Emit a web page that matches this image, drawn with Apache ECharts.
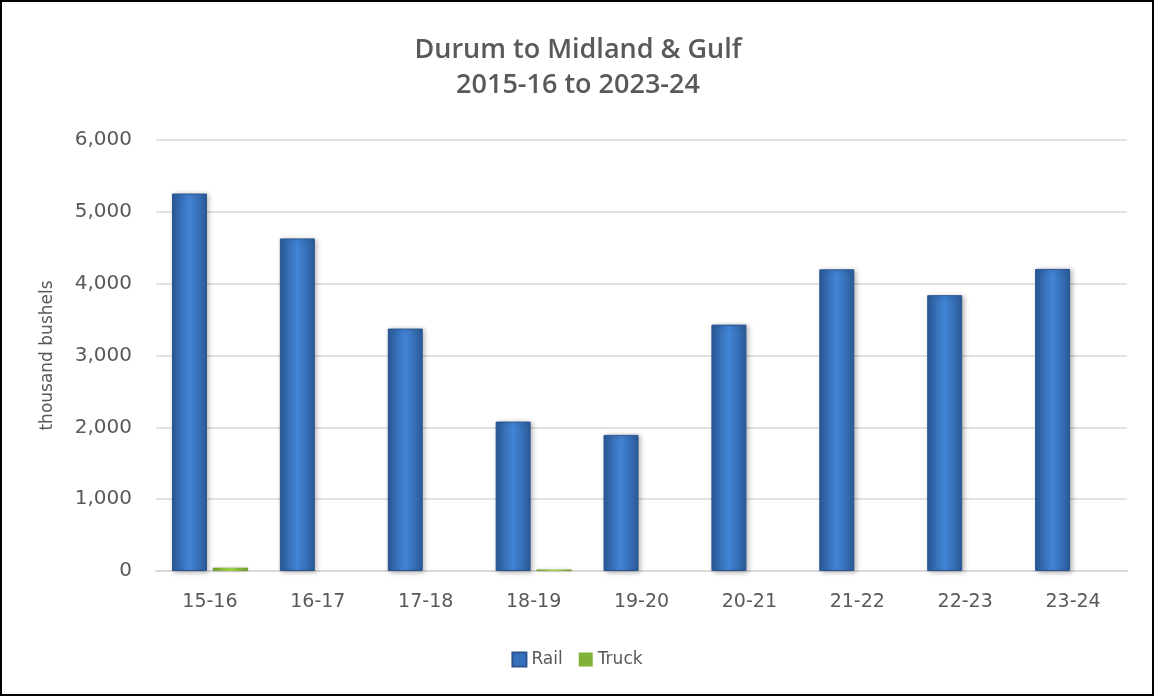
<!DOCTYPE html>
<html>
<head>
<meta charset="utf-8">
<script src="https://cdn.jsdelivr.net/npm/echarts@6/dist/echarts.min.js"></script>
<style>
  html, body { margin: 0; padding: 0; background: #fff; }
  #chart { width: 1154px; height: 696px; box-sizing: border-box; border: 2px solid #000; }
</style>
</head>
<body>
<div id="chart"></div>
<script>
var seasons = ['15-16', '16-17', '17-18', '18-19', '19-20', '20-21', '21-22', '22-23', '23-24'];
var railVals = [5255, 4630, 3375, 2080, 1895, 3430, 4200, 3840, 4205];
var truckVals = [45, 0, 0, 20, 0, 0, 0, 0, 0];
var yTicks = [0, 1000, 2000, 3000, 4000, 5000, 6000];

var txtColor = '#595959';
var fontFam = '"DejaVu Sans", sans-serif';

function barGrad(dark, light) {
  return new echarts.graphic.LinearGradient(0, 0, 1, 0, [
    {offset: 0, color: dark},
    {offset: 0.5, color: light},
    {offset: 1, color: dark}
  ]);
}

var myChart = echarts.init(document.getElementById('chart'));

var option = {
  backgroundColor: '#fff',
  animation: false,
  title: {
    text: 'Durum to Midland & Gulf\n2015-16 to 2023-24',
    left: 571,
    textAlign: 'center',
    top: 26,
    textStyle: {
      color: txtColor,
      fontFamily: '"Open Sans", sans-serif',
      fontSize: 27,
      fontWeight: 600,
      lineHeight: 35
    }
  },
  legend: {
    bottom: 21,
    left: 'center',
    itemWidth: 14,
    itemHeight: 14,
    itemGap: 16,
    icon: 'rect',
    textStyle: {color: txtColor, fontFamily: fontFam, fontSize: 17},
    data: [
      {name: 'Rail', itemStyle: {color: '#3671bd'}},
      {name: 'Truck', itemStyle: {color: '#7fb236'}}
    ]
  },
  grid: {left: 154, right: 25, top: 138, bottom: 123},
  xAxis: {
    type: 'category',
    data: seasons,
    axisLine: {lineStyle: {color: '#d9d9d9', width: 2}},
    axisTick: {show: false},
    axisLabel: {color: txtColor, fontFamily: fontFam, fontSize: 19, margin: 22}
  },
  yAxis: {
    type: 'value',
    min: yTicks[0],
    max: yTicks[yTicks.length - 1],
    interval: 1000,
    name: 'thousand bushels',
    nameLocation: 'middle',
    nameGap: 100,
    nameTextStyle: {color: txtColor, fontFamily: fontFam, fontSize: 17},
    axisLine: {show: false},
    axisTick: {show: false},
    splitLine: {lineStyle: {color: '#d9d9d9', width: 1.5}},
    axisLabel: {
      color: txtColor, fontFamily: fontFam, fontSize: 20, margin: 24,
      formatter: function(v) { return echarts.format.addCommas(v); }
    }
  },
  series: [
    {
      name: 'Rail',
      type: 'bar',
      data: railVals,
      barWidth: 35,
      barGap: '17%',
      itemStyle: {
        color: barGrad('#2b5a99', '#4285d6'),
        borderColor: '#2a5590',
        borderWidth: 1,
        shadowBlur: 5,
        shadowColor: 'rgba(0,0,0,0.3)',
        shadowOffsetX: 2,
        shadowOffsetY: 1
      }
    },
    {
      name: 'Truck',
      type: 'bar',
      data: truckVals,
      barWidth: 35,
      itemStyle: {
        color: barGrad('#6e9a2c', '#9bd14a'),
        shadowBlur: 3,
        shadowColor: 'rgba(0,0,0,0.25)'
      }
    }
  ]
};

myChart.setOption(option);
</script>
</body>
</html>
